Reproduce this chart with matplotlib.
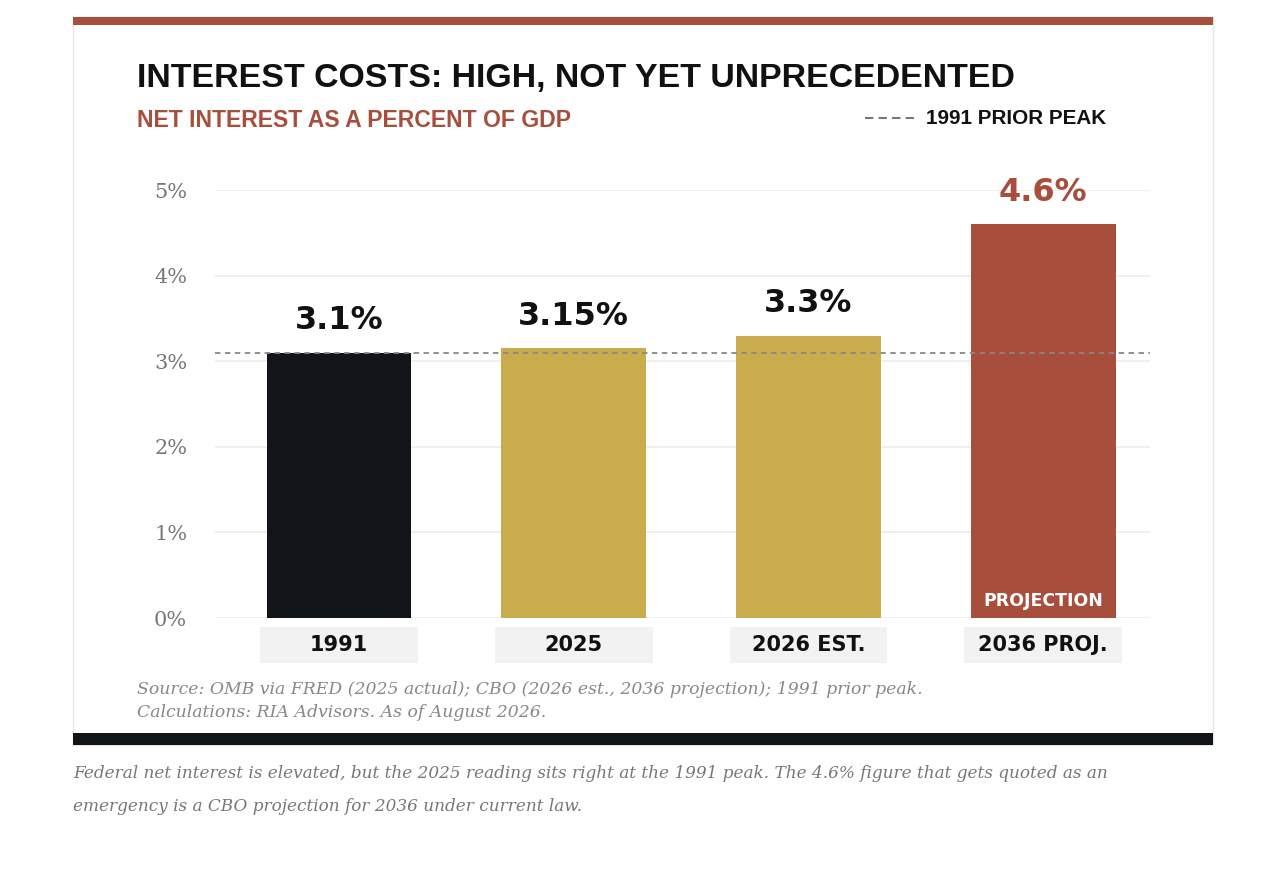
import matplotlib
matplotlib.use("Agg")
import matplotlib.pyplot as plt
from matplotlib.patches import Rectangle

categories = ["1991", "2025", "2026 EST.", "2036 PROJ."]
values = [3.1, 3.15, 3.3, 4.6]
labels = ["3.1%", "3.15%", "3.3%", "4.6%"]
colors = ["#111418", "#C9AC4C", "#C9AC4C", "#A84E3C"]
label_colors = ["#111111", "#111111", "#111111", "#A84E3C"]
prior_peak = 3.1
yticks = [0, 1, 2, 3, 4, 5]

W, H = 1274, 872
fig = plt.figure(figsize=(W/100, H/100), dpi=100)
fig.patch.set_facecolor("white")
def fx(x): return x/W
def fy(y): return 1 - y/H

fig.patches.append(Rectangle((fx(73), fy(745)), fx(1213)-fx(73), fy(17)-fy(745), zorder=-5,
                             transform=fig.transFigure, facecolor="white", edgecolor="#e6e6e6", lw=1))
fig.patches.append(Rectangle((fx(73), fy(25)), fx(1213)-fx(73), fy(17)-fy(25), zorder=-4,
                             transform=fig.transFigure, facecolor="#A84E3C", edgecolor="none"))
fig.patches.append(Rectangle((fx(73), fy(745)), fx(1213)-fx(73), fy(733)-fy(745), zorder=-4,
                             transform=fig.transFigure, facecolor="#111418", edgecolor="none"))

sans = "Liberation Sans"
wide = "DejaVu Sans"
serif = "DejaVu Serif"
fig.text(fx(137), fy(79), "INTEREST COSTS: HIGH, NOT YET UNPRECEDENTED", fontsize=24.4,
         fontweight="bold", family=sans, color="#111111", va="center")
fig.text(fx(137), fy(120), "NET INTEREST AS A PERCENT OF GDP", fontsize=16.6,
         fontweight="bold", family=sans, color="#A84E3C", va="center")
fig.lines.append(plt.Line2D([fx(865), fx(916)], [fy(118), fy(118)], transform=fig.transFigure,
                            color="#777777", ls=(0, (4, 2.5)), lw=1.5))
fig.text(fx(926), fy(118), "1991 PRIOR PEAK", fontsize=14.9, fontweight="bold", family=sans,
         color="#111111", va="center")

ax = fig.add_axes([fx(215), fy(618), fx(1150)-fx(215), fy(190)-fy(618)])
ax.set_zorder(2)
ax.patch.set_alpha(0)
x = list(range(len(categories)))
ax.set_xlim(-0.528, 3.455)
ax.set_ylim(0, 5)
ax.set_yticks(yticks)
ax.set_yticklabels([f"{t}%" for t in yticks], family=serif, fontsize=15, color="#777777")
ax.tick_params(axis="y", length=0, pad=20)
ax.set_xticks([])
for s in ax.spines.values():
    s.set_visible(False)
ax.grid(axis="y", color="#ececec", lw=1.2)
ax.set_axisbelow(True)
ax.bar(x, values, width=0.617, color=colors, zorder=2)
ax.axhline(prior_peak, color="#888888", ls=(0, (3, 2.5)), lw=1.3, zorder=3)
for i, v in enumerate(values):
    ax.text(i, v + 0.19, labels[i], ha="center", va="bottom", fontsize=23, fontweight="bold",
            family=wide, color=label_colors[i])
    ax.add_patch(Rectangle((i - 0.336, -0.52), 0.672, 0.41, transform=ax.transData,
                           facecolor="#f2f2f2", edgecolor="none", clip_on=False))
    ax.text(i, -0.315, categories[i], ha="center", va="center", fontsize=15, fontweight="bold",
            family=wide, color="#111111", clip_on=False)
ax.text(3, 0.2, "PROJECTION", ha="center", va="center", fontsize=12.5, fontweight="bold",
        family=wide, color="white")

fig.text(fx(137), fy(689), "Source: OMB via FRED (2025 actual); CBO (2026 est., 2036 projection); 1991 prior peak.",
         fontsize=12.4, style="italic", family=serif, color="#888888", va="center")
fig.text(fx(137), fy(712), "Calculations: RIA Advisors. As of August 2026.",
         fontsize=12.4, style="italic", family=serif, color="#888888", va="center")
fig.text(fx(73), fy(773), "Federal net interest is elevated, but the 2025 reading sits right at the 1991 peak. The 4.6% figure that gets quoted as an",
         fontsize=12.2, style="italic", family=serif, color="#777777", va="center")
fig.text(fx(73), fy(806), "emergency is a CBO projection for 2036 under current law.",
         fontsize=12.2, style="italic", family=serif, color="#777777", va="center")

fig.savefig("out.png", dpi=100)
